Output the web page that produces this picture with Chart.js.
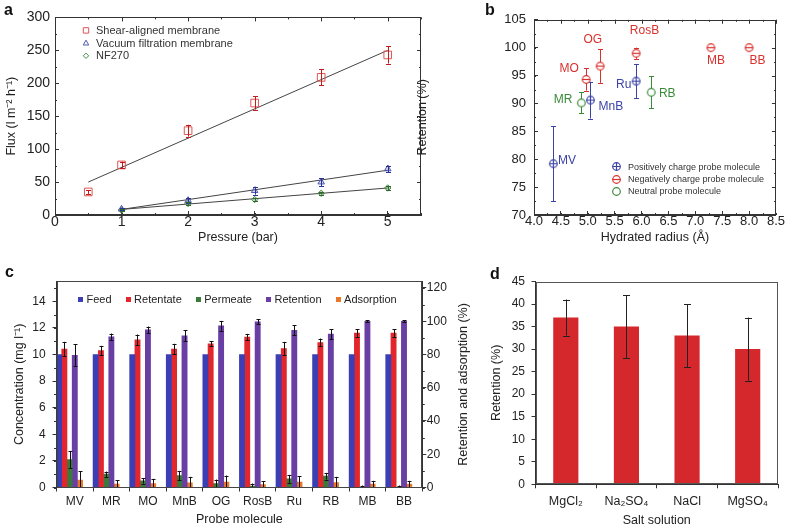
<!DOCTYPE html>
<html>
<head>
<meta charset="utf-8">
<script src="https://cdn.jsdelivr.net/npm/chart.js"></script>
<style>
  body { margin: 0; background: #fff; }
  #fig { position: relative; width: 788px; height: 529px; overflow: hidden; font-family: 'Liberation Sans', Arial, sans-serif; }
  #fig canvas { position: absolute; }
  .tag { position: absolute; font-weight: bold; font-size: 16px; line-height: 16px; color: #111; }
</style>
</head>
<body>
<div id="fig">
  <canvas id="chartA" width="430" height="249" style="left:0;top:0"></canvas>
  <canvas id="chartB" width="388" height="249" style="left:400px;top:0"></canvas>
  <canvas id="chartC" width="480" height="269" style="left:0;top:260px"></canvas>
  <canvas id="chartD" width="308" height="270" style="left:480px;top:260px"></canvas>
  <div class="tag" style="left:4px;top:2px">a</div>
  <div class="tag" style="left:485px;top:2px">b</div>
  <div class="tag" style="left:5px;top:264px">c</div>
  <div class="tag" style="left:490px;top:266px">d</div>
</div>
<script>
// ---- a: flux vs pressure
const pressureShear = [0.5, 1, 2, 3, 4, 5];
const fluxShear = [35, 76, 128, 170, 209, 243];
const fluxShearErr = [3, 5, 9, 10, 12, 13];
const pressureOther = [1, 2, 3, 4, 5];
const fluxVacuum = [9, 22, 37, 50, 70];
const fluxVacuumErr = [2, 4, 6, 6, 5];
const fluxNF270 = [7.5, 17.5, 23.5, 33, 41];
const fluxNF270Err = [1.5, 2, 2, 2, 3];
const fitShearX = [0.5, 5], fitShearY = [50, 250];
const fitVacuumX = [1, 5], fitVacuumY = [8.5, 68];
const fitNF270X = [1, 5], fitNF270Y = [8.5, 41];

// ---- b: retention vs hydrated radius
const posNames = ['MV', 'MnB', 'Ru'];
const posRadius = [4.36, 5.05, 5.9];
const posRetention = [79.2, 90.6, 94.0];
const posErr = [6.7, 3.3, 3.0];
const negNames = ['MO', 'OG', 'RosB', 'MB', 'BB'];
const negRadius = [4.97, 5.23, 5.9, 7.29, 8.0];
const negRetention = [94.3, 96.7, 99.0, 100, 100];
const negErr = [2.0, 3.0, 1.0, 0, 0];
const neuNames = ['MR', 'RB'];
const neuRadius = [4.88, 6.18];
const neuRetention = [90.1, 92.0];
const neuErr = [1.9, 2.9];

// ---- c: probe molecules
const probes = ['MV', 'MR', 'MO', 'MnB', 'OG', 'RosB', 'Ru', 'RB', 'MB', 'BB'];
const feed = [10, 10, 10, 10, 10, 10, 10, 10, 10, 10];
const retentate = [10.4, 10.3, 11.1, 10.4, 10.8, 11.3, 10.45, 10.9, 11.6, 11.6];
const retentateErr = [0.55, 0.35, 0.4, 0.4, 0.2, 0.25, 0.5, 0.3, 0.3, 0.3];
const permeate = [2.1, 1.0, 0.5, 0.9, 0.3, 0.1, 0.65, 0.85, 0, 0];
const permeateErr = [0.65, 0.2, 0.2, 0.35, 0.3, 0.2, 0.3, 0.25, 0.15, 0.15];
const retention = [79.5, 90.6, 94.8, 91.2, 97.2, 99.6, 94.5, 92.2, 100, 100];
const retentionErr = [6.5, 2, 2, 3.3, 3, 1.5, 3, 3, 0.6, 0.6];
const adsorption = [4.4, 2, 2.4, 2.8, 3.2, 1.8, 3.3, 3.0, 2, 2];
const adsorptionErr = [5.4, 2.4, 2.8, 3.6, 4, 2, 3.6, 3.4, 2, 2];

// ---- d: salts
const salts = ['MgCl₂', 'Na₂SO₄', 'NaCl', 'MgSO₄'];
const saltRetention = [37, 35, 33, 30];
const saltErr = [4, 7, 7, 7];

const FONT = "'Liberation Sans', Arial, Helvetica, sans-serif";
const INK = '#333';
Chart.defaults.font.family = FONT;
Chart.defaults.font.size = 13;
Chart.defaults.color = '#222';
Chart.defaults.animation = false;
Chart.defaults.plugins.legend.display = false;
Chart.defaults.plugins.tooltip.enabled = false;

function pts(xs, ys) { return xs.map((x, i) => ({x: x, y: ys[i]})); }

// box round the plot area
const frame = {
  id: 'frame',
  afterDraw(chart, args, o) {
    const {ctx, chartArea: a} = chart;
    ctx.save();
    ctx.strokeStyle = o.color || INK;
    ctx.lineWidth = 1;
    const l = Math.round(a.left) + 0.5, t = Math.round(a.top) + 0.5;
    const r = Math.round(a.right) - 0.5, b = Math.round(a.bottom) - 0.5;
    ctx.strokeRect(l, t, r - l, b - t);
    ctx.restore();
  }
};

// minor ticks and mirrored ticks
const extraTicks = {
  id: 'extraTicks',
  afterDraw(chart, args, o) {
    const {ctx, chartArea: a} = chart;
    ctx.save();
    ctx.strokeStyle = o.color || INK;
    ctx.lineWidth = 1;
    ctx.beginPath();
    (o.items || []).forEach(it => {
      const s = chart.scales[it.scale];
      const n = Math.floor((s.max - s.min) / it.step + 1e-6);
      const dir = it.out ? -1 : 1;
      for (let k = 0; k <= n; k++) {
        const p = Math.round(s.getPixelForValue(s.min + k * it.step)) + 0.5;
        it.sides.forEach(side => {
          if (side === 'bottom') { ctx.moveTo(p, a.bottom); ctx.lineTo(p, a.bottom - dir * it.len); }
          if (side === 'top') { ctx.moveTo(p, a.top); ctx.lineTo(p, a.top + dir * it.len); }
          if (side === 'left') { ctx.moveTo(a.left, p); ctx.lineTo(a.left + dir * it.len, p); }
          if (side === 'right') { ctx.moveTo(a.right, p); ctx.lineTo(a.right - dir * it.len, p); }
        });
      }
    });
    ctx.stroke();
    ctx.restore();
  }
};

// vertical error bars from dataset.errors
function drawErrors(chart) {
  const {ctx, chartArea: a} = chart;
  ctx.save();
  ctx.beginPath();
  ctx.rect(a.left, a.top, a.right - a.left, a.bottom - a.top);
  ctx.clip();
  chart.data.datasets.forEach((ds, i) => {
    if (!ds.errors) return;
    const meta = chart.getDatasetMeta(i);
    if (meta.hidden) return;
    const ys = chart.scales[meta.yAxisID];
    ctx.strokeStyle = ds.errorColor || '#111';
    ctx.lineWidth = 1;
    const cap = ds.capWidth || 4;
    meta.data.forEach((el, j) => {
      const e = ds.errors[j];
      const parsed = meta.controller.getParsed(j);
      if (!e || !parsed) return;
      const hi = ys.getPixelForValue(parsed.y + e);
      const lo = ys.getPixelForValue(parsed.y - e);
      const x = Math.round(el.x) + 0.5;
      ctx.beginPath();
      ctx.moveTo(x, hi); ctx.lineTo(x, lo);
      ctx.moveTo(x - cap / 2, Math.round(hi) + 0.5); ctx.lineTo(x + cap / 2, Math.round(hi) + 0.5);
      ctx.moveTo(x - cap / 2, Math.round(lo) + 0.5); ctx.lineTo(x + cap / 2, Math.round(lo) + 0.5);
      ctx.stroke();
    });
  });
  ctx.restore();
}
const errorsOver = { id: 'errorsOver', afterDatasetsDraw: drawErrors };
const errorsUnder = { id: 'errorsUnder', beforeDatasetsDraw: drawErrors };

function axisStyle(tickLen) {
  return {
    grid: { drawOnChartArea: false, tickLength: tickLen, color: INK },
    border: { color: INK }
  };
}

// ================= a =================
function shape(ctx, kind, x, y, r) {
  ctx.beginPath();
  if (kind === 'rect') ctx.rect(x - r, y - r, 2 * r, 2 * r);
  if (kind === 'triangle') { ctx.moveTo(x, y - r * 1.1); ctx.lineTo(x + r, y + r * 0.7); ctx.lineTo(x - r, y + r * 0.7); ctx.closePath(); }
  if (kind === 'rectRot') { ctx.moveTo(x, y - r); ctx.lineTo(x + r, y); ctx.lineTo(x, y + r); ctx.lineTo(x - r, y); ctx.closePath(); }
  ctx.stroke();
}
const legendA = {
  id: 'legendA',
  afterDraw(chart) {
    const {ctx, chartArea: a} = chart;
    ctx.save();
    ctx.font = '11px ' + FONT;
    ctx.textBaseline = 'middle';
    ctx.lineWidth = 1;
    chart.data.datasets.filter(d => d.inLegend).forEach((d, i) => {
      const x = a.left + 31, y = a.top + 13 + i * 12.7;
      ctx.strokeStyle = d.borderColor;
      shape(ctx, d.pointStyle, x, y, 2.7);
      ctx.fillStyle = '#333';
      ctx.fillText(d.label, x + 10, y + 0.5);
    });
    ctx.restore();
  }
};

new Chart(document.getElementById('chartA'), {
  type: 'scatter',
  data: {
    datasets: [
      { label: 'fit1', data: pts(fitShearX, fitShearY), showLine: true, pointRadius: 0, borderColor: '#444', borderWidth: 1, order: 3 },
      { label: 'fit2', data: pts(fitVacuumX, fitVacuumY), showLine: true, pointRadius: 0, borderColor: '#444', borderWidth: 1, order: 3 },
      { label: 'fit3', data: pts(fitNF270X, fitNF270Y), showLine: true, pointRadius: 0, borderColor: '#444', borderWidth: 1, order: 3 },
      { label: 'Shear-aligned membrane', inLegend: true, data: pts(pressureShear, fluxShear), pointStyle: 'rect', pointRadius: 5.4,
        borderColor: '#e05555', backgroundColor: 'rgba(0,0,0,0)', borderWidth: 1, errors: fluxShearErr, errorColor: '#c01c1c', capWidth: 5, order: 1 },
      { label: 'Vacuum filtration membrane', inLegend: true, data: pts(pressureOther, fluxVacuum), pointStyle: 'triangle', pointRadius: 3.8,
        borderColor: '#5058b0', backgroundColor: 'rgba(80,88,176,0.25)', borderWidth: 1, errors: fluxVacuumErr, errorColor: '#2a3298', capWidth: 5, order: 1 },
      { label: 'NF270', inLegend: true, data: pts(pressureOther, fluxNF270), pointStyle: 'rectRot', pointRadius: 3.2,
        borderColor: '#4a8a4a', backgroundColor: 'rgba(74,138,74,0.3)', borderWidth: 1, errors: fluxNF270Err, errorColor: '#2a6a2a', capWidth: 5, order: 1 }
    ]
  },
  options: {
    responsive: false,
    layout: { padding: { left: 0, top: 16, right: 9, bottom: 0 } },
    scales: {
      x: Object.assign({
        type: 'linear', min: 0, max: 5.5,
        ticks: { stepSize: 1, includeBounds: false, padding: 2.3, font: { size: 14 } },
        title: { display: true, text: 'Pressure (bar)', font: { size: 12.5 }, padding: { top: 0, bottom: 4 } },
        afterFit: s => { s.height = 34; }
      }, axisStyle(-4)),
      y: Object.assign({
        min: 0, max: 300,
        ticks: { stepSize: 50, padding: 9, font: { size: 14 } },
        title: { display: true, text: 'Flux (l m⁻² h⁻¹)', font: { size: 12.5 }, padding: { top: 4, bottom: 0 } },
        afterFit: s => { s.width = 55; }
      }, axisStyle(-4))
    },
    plugins: {
      extraTicks: { items: [
        { scale: 'x', step: 0.5, len: 2, sides: ['bottom', 'top'] },
        { scale: 'x', step: 1, len: 4, sides: ['top'] },
        { scale: 'y', step: 25, len: 2, sides: ['left', 'right'] },
        { scale: 'y', step: 50, len: 4, sides: ['right'] }
      ] }
    }
  },
  plugins: [frame, extraTicks, errorsOver, legendA]
});

// ================= b =================
const BLUE = '#3b43a8', RED = '#d9302c', GREEN = '#3a8a3a';
function makeMarker(color, kind) {
  const c = document.createElement('canvas');
  c.width = 11; c.height = 11;
  const g = c.getContext('2d');
  g.strokeStyle = color; g.lineWidth = 1.2; g.fillStyle = '#fff';
  g.beginPath(); g.arc(5.5, 5.5, 3.8, 0, Math.PI * 2); g.fill(); g.stroke();
  g.beginPath();
  if (kind !== 'neutral') { g.moveTo(1.7, 5.5); g.lineTo(9.3, 5.5); }
  if (kind === 'plus') { g.moveTo(5.5, 1.7); g.lineTo(5.5, 9.3); }
  g.stroke();
  return c;
}
const markPos = makeMarker(BLUE, 'plus');
const markNeg = makeMarker(RED, 'minus');
const markNeu = makeMarker(GREEN, 'neutral');

const nameTags = {
  id: 'nameTags',
  afterDatasetsDraw(chart, args, o) {
    const ctx = chart.ctx;
    ctx.save();
    ctx.font = '12px ' + FONT;
    ctx.textBaseline = 'middle';
    chart.data.datasets.forEach((d, i) => {
      if (!d.names) return;
      ctx.fillStyle = d.errorColor;
      chart.getDatasetMeta(i).data.forEach((pt, j) => {
        const off = o.offsets[d.names[j]] || [6, 0, 'left'];
        ctx.textAlign = off[2];
        ctx.fillText(d.names[j], pt.x + off[0], pt.y + off[1]);
      });
    });
    ctx.restore();
  }
};
const legendB = {
  id: 'legendB',
  afterDraw(chart) {
    const {ctx, chartArea: a} = chart;
    ctx.save();
    ctx.font = '9px ' + FONT;
    ctx.textBaseline = 'middle';
    chart.data.datasets.forEach((d, i) => {
      const x = a.left + 82.7, y = a.top + 147 + i * 12.3;
      ctx.drawImage(d.pointStyle, Math.round(x - 5.5), Math.round(y - 5.5));
      ctx.fillStyle = '#333';
      ctx.fillText(d.label, x + 11.3, y + 0.5);
    });
    ctx.restore();
  }
};

new Chart(document.getElementById('chartB'), {
  type: 'scatter',
  data: {
    datasets: [
      { label: 'Positively charge probe molecule', names: posNames, data: pts(posRadius, posRetention), pointStyle: markPos, pointRadius: 4,
        errors: posErr, errorColor: BLUE, capWidth: 5 },
      { label: 'Negatively charge probe molecule', names: negNames, data: pts(negRadius, negRetention), pointStyle: markNeg, pointRadius: 4,
        errors: negErr, errorColor: RED, capWidth: 5 },
      { label: 'Neutral probe molecule', names: neuNames, data: pts(neuRadius, neuRetention), pointStyle: markNeu, pointRadius: 4,
        errors: neuErr, errorColor: GREEN, capWidth: 5 }
    ]
  },
  options: {
    responsive: false,
    layout: { padding: { left: 11.5, top: 16, right: 10, bottom: 0 } },
    scales: {
      x: Object.assign({
        type: 'linear', min: 4, max: 8.5,
        ticks: { stepSize: 0.5, padding: 3, callback: v => v.toFixed(1) },
        title: { display: true, text: 'Hydrated radius (Å)', font: { size: 12.5 }, padding: { top: 0, bottom: 4 } },
        afterFit: s => { s.height = 34; }
      }, axisStyle(-4)),
      y: Object.assign({
        min: 70, max: 105,
        ticks: { stepSize: 5, padding: 12 },
        title: { display: true, text: 'Retention (%)', font: { size: 12.5 }, padding: { top: 4, bottom: 0 } },
        afterFit: s => { s.width = 122.5; }
      }, axisStyle(-4))
    },
    plugins: {
      extraTicks: { items: [
        { scale: 'x', step: 0.25, len: 2, sides: ['bottom', 'top'] },
        { scale: 'x', step: 0.5, len: 4, sides: ['top'] },
        { scale: 'y', step: 2.5, len: 2, sides: ['left', 'right'] },
        { scale: 'y', step: 5, len: 4, sides: ['right'] }
      ] },
      nameTags: { offsets: {
        MV: [4.7, -3.3, 'left'], MR: [-9, -3.3, 'right'], MO: [-7.3, -10.3, 'right'],
        OG: [-7.3, -26.3, 'center'], RosB: [8.3, -22.7, 'center'], Ru: [-4.7, 3.7, 'right'],
        MnB: [8, 6.7, 'left'], RB: [7.7, 1, 'left'], MB: [5, 13, 'center'], BB: [8.3, 13, 'center']
      } }
    }
  },
  plugins: [frame, extraTicks, errorsUnder, nameTags, legendB]
});

// ================= c =================
const legendC = {
  id: 'legendC',
  afterDraw(chart) {
    const {ctx, chartArea: a} = chart;
    ctx.save();
    ctx.font = '11px ' + FONT;
    ctx.textBaseline = 'middle';
    let x = a.left + 21.5;
    const y = a.top + 17.7;
    chart.data.datasets.filter(d => d.label).forEach(d => {
      ctx.fillStyle = d.backgroundColor;
      ctx.fillRect(Math.round(x), Math.round(y - 2.5), 5, 5);
      ctx.fillStyle = '#222';
      ctx.fillText(d.label, x + 8.5, y + 0.5);
      x += 8.5 + ctx.measureText(d.label).width + 14;
    });
    ctx.restore();
  }
};
const sideTitle = {
  id: 'sideTitle',
  afterDraw(chart, args, o) {
    const {ctx, chartArea: a} = chart;
    const s = chart.scales[o.scale];
    ctx.save();
    ctx.font = '12.5px ' + FONT;
    ctx.fillStyle = '#222';
    ctx.textAlign = 'center';
    ctx.textBaseline = 'middle';
    ctx.translate(s.left + o.offset, (a.top + a.bottom) / 2);
    ctx.rotate(-Math.PI / 2);
    ctx.fillText(o.text, 0, 0);
    ctx.restore();
  }
};

new Chart(document.getElementById('chartC'), {
  type: 'bar',
  data: {
    labels: probes,
    datasets: [
      { label: 'Feed', data: feed, backgroundColor: '#3b3fb3', yAxisID: 'y' },
      { label: 'Retentate', data: retentate, backgroundColor: '#e3262b', yAxisID: 'y', errors: retentateErr, capWidth: 4 },
      { label: 'Permeate', data: permeate, backgroundColor: '#3a7a3a', yAxisID: 'y', errors: permeateErr, capWidth: 4 },
      { label: 'Retention', data: retention, backgroundColor: '#6a3fa5', yAxisID: 'y1', errors: retentionErr, capWidth: 4 },
      { label: 'Adsorption', data: adsorption, backgroundColor: '#e8782c', yAxisID: 'y1', errors: adsorptionErr, capWidth: 4 },
      // two empty slots: each group sits at the left of its category
      { label: '', data: [], yAxisID: 'y' },
      { label: '', data: [], yAxisID: 'y' }
    ]
  },
  options: {
    responsive: false,
    layout: { padding: { left: 8.5, top: 21.3, right: 0, bottom: 0 } },
    datasets: { bar: { categoryPercentage: 1, barPercentage: 1 } },
    scales: {
      x: Object.assign({
        ticks: { padding: 3, font: { size: 12 } },
        title: { display: true, text: 'Probe molecule', font: { size: 12.5 }, padding: { top: 0, bottom: 2 } },
        afterFit: s => { s.height = 41.5; }
      }, axisStyle(4)),
      y: Object.assign({
        position: 'left', min: 0, max: 15.5,
        ticks: { stepSize: 2, includeBounds: false, padding: 6.8, font: { size: 12 } },
        title: { display: true, text: 'Concentration (mg l⁻¹)', font: { size: 12.5 }, padding: { top: 4, bottom: 0 } },
        afterFit: s => { s.width = 48; }
      }, axisStyle(4)),
      y1: Object.assign({
        position: 'right', min: 0, max: 124,
        ticks: { stepSize: 20, includeBounds: false, padding: 0.5, font: { size: 12 } },
        afterFit: s => { s.width = 57.7; }
      }, axisStyle(4))
    },
    plugins: {
      extraTicks: { items: [
        { scale: 'y', step: 1, len: 2.5, sides: ['left'], out: true },
        { scale: 'y1', step: 10, len: 2.5, sides: ['right'], out: true }
      ] },
      sideTitle: { scale: 'y1', offset: 41, text: 'Retention and adsorption (%)' },
      frame: { color: '#444' }
    }
  },
  plugins: [frame, extraTicks, errorsOver, legendC, sideTitle]
});

// ================= d =================
new Chart(document.getElementById('chartD'), {
  type: 'bar',
  data: {
    labels: salts,
    datasets: [
      { label: 'Retention', data: saltRetention, backgroundColor: '#d4282c', errors: saltErr, errorColor: '#222', capWidth: 7 }
    ]
  },
  options: {
    responsive: false,
    layout: { padding: { left: 5.2, top: 21.5, right: 10, bottom: 0 } },
    datasets: { bar: { categoryPercentage: 1, barPercentage: 0.415 } },
    scales: {
      x: Object.assign({
        ticks: { padding: 6, font: { size: 12.5 } },
        title: { display: true, text: 'Salt solution', font: { size: 12.5 }, padding: { top: 0, bottom: 2 } },
        afterFit: s => { s.height = 45.7; }
      }, axisStyle(4)),
      y: Object.assign({
        min: 0, max: 45,
        ticks: { stepSize: 5, padding: 6.5, font: { size: 12 } },
        title: { display: true, text: 'Retention (%)', font: { size: 12.5 }, padding: { top: 4, bottom: 0 } },
        afterFit: s => { s.width = 50.3; }
      }, axisStyle(4))
    },
    plugins: { frame: { color: '#555' } }
  },
  plugins: [frame, errorsOver]
});
</script>
</body>
</html>
